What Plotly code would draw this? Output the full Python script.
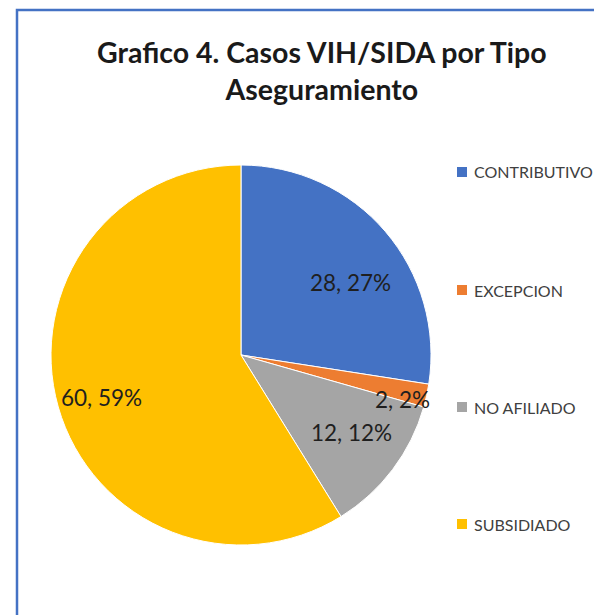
import math
import plotly.graph_objects as go

categories = ["CONTRIBUTIVO", "EXCEPCION", "NO AFILIADO", "SUBSIDIADO"]
values = [28, 2, 12, 60]
colors = ["#4472C4", "#ED7D31", "#A5A5A5", "#FFC000"]
label_radius = [0.69, 0.88, 0.71, 0.77]   # fraction of pie radius for data labels
label_shift = [7, 3, -2, -1]              # degrees of nudge for data labels

W, H = 602, 615
OFF = 8  # page body margin
cx, cy, R = 241 - OFF, 355 - OFF, 190
FONT = "Lato"


def px(x):
    return x / W


def py(y):
    return 1 - y / H


total = sum(values)
pcts = [f"{round(v / total * 100)}%" for v in values]

fig = go.Figure(go.Pie(
    labels=categories, values=values, sort=False, direction="clockwise", rotation=0,
    marker=dict(colors=colors, line=dict(color="white", width=1)),
    textinfo="none", hoverinfo="label+value+percent", showlegend=False,
    domain=dict(x=[px(cx - R), px(cx + R)], y=[py(cy + R), py(cy - R)]),
))

anns = []
cum = 0
for v, p, f, s in zip(values, pcts, label_radius, label_shift):
    mid = (cum + v / 2) / total * 2 * math.pi + math.radians(s)
    cum += v
    lx = cx + R * f * math.sin(mid)
    ly = cy - R * f * math.cos(mid)
    anns.append(dict(x=px(lx), y=py(ly), xref="paper", yref="paper", showarrow=False,
                     xanchor="center", yanchor="middle",
                     text=f"{v}, {p}", font=dict(family=FONT, size=22.5, color="#1f1f1f")))

shapes = [dict(type="rect", xref="paper", yref="paper", x0=px(17 - OFF), y0=-0.1, x1=1.2, y1=py(10 - OFF),
               line=dict(color="#4472C4", width=2.5), fillcolor="rgba(0,0,0,0)")]
leg_y = [172, 290, 407, 524]
for name, col, ly in zip(categories, colors, leg_y):
    ly -= OFF
    shapes.append(dict(type="rect", xref="paper", yref="paper", x0=px(457 - OFF), x1=px(467 - OFF),
                       y0=py(ly + 5), y1=py(ly - 5), fillcolor=col, line=dict(width=0)))
    anns.append(dict(x=px(472 - OFF), y=py(ly), xref="paper", yref="paper", showarrow=False,
                     xanchor="left", yanchor="middle", text=name,
                     font=dict(family=FONT, size=16, color="#404040")))

anns.append(dict(x=px(322 - OFF), y=py(71 - OFF), xref="paper", yref="paper", showarrow=False,
                 xanchor="center", yanchor="middle",
                 text="<b>Grafico 4. Casos VIH/SIDA por Tipo<br>Aseguramiento</b>",
                 font=dict(family=FONT, size=28.5, color="#1a1a1a")))

fig.update_layout(width=W, height=H, margin=dict(l=0, r=0, t=0, b=0),
                  paper_bgcolor="white", plot_bgcolor="white",
                  annotations=anns, shapes=shapes)
fig.write_html("out.html")
